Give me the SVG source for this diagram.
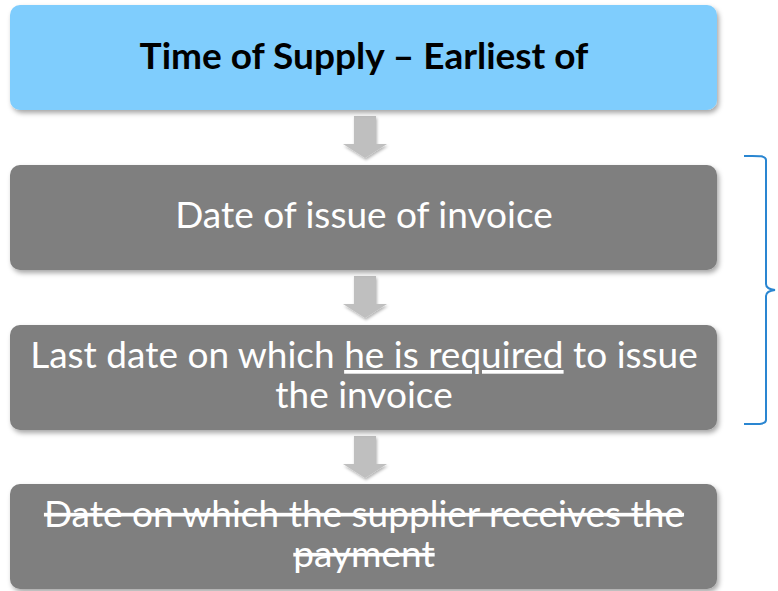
<svg xmlns="http://www.w3.org/2000/svg" width="778" height="591" viewBox="0 0 778 591">
  <defs>
    <filter id="shadow" x="-5%" y="-10%" width="110%" height="130%">
      <feDropShadow dx="2" dy="3" stdDeviation="2.5" flood-color="#000" flood-opacity="0.35"/>
    </filter>
    <filter id="ashadow" x="-20%" y="-20%" width="140%" height="140%">
      <feDropShadow dx="1" dy="2" stdDeviation="1.5" flood-color="#000" flood-opacity="0.3"/>
    </filter>
  </defs>
  <style>
    .box { fill: #7f7f7f; filter: url(#shadow); }
    .head { fill: #7fcdfd; filter: url(#shadow); }
    .t { font-family: Lato, "Liberation Sans", sans-serif; font-size: 37px; fill: #ffffff; text-anchor: middle; }
    .tb { font-family: Lato, "Liberation Sans", sans-serif; font-size: 37px; font-weight: bold; fill: #000000; text-anchor: middle; }
    .arrow { fill: #bfbfbf; filter: url(#ashadow); }
    .brace { fill: none; stroke: #2a86d1; stroke-width: 2; }
  </style>

  <rect width="778" height="591" fill="#ffffff"/>

  <g id="connectors">
    <path class="arrow" d="M354 116 H376 V144 H387 L365 158 L343 144 H354 Z"/>
    <path class="arrow" d="M354 276 H376 V304 H387 L365 318 L343 304 H354 Z"/>
    <path class="arrow" d="M354 436 H376 V464 H387 L365 478 L343 464 H354 Z"/>
  </g>

  <g id="node-time-of-supply">
    <rect class="head" x="10" y="5" width="707" height="105" rx="10"/>
    <text class="tb" x="364" y="69">Time of Supply – Earliest of</text>
  </g>

  <g id="node-issue-invoice">
    <rect class="box" x="10" y="165" width="707" height="105" rx="10"/>
    <text class="t" x="364" y="228">Date of issue of invoice</text>
  </g>

  <g id="node-last-date">
    <rect class="box" x="10" y="325" width="707" height="105" rx="10"/>
    <text class="t" x="364" y="368">Last date on which <tspan text-decoration="underline">he is required</tspan> to issue</text>
    <text class="t" x="364" y="408">the invoice</text>
  </g>

  <g id="node-payment">
    <rect class="box" x="10" y="484" width="707" height="105" rx="10"/>
    <text class="t" x="364" y="527" text-decoration="line-through">Date on which the supplier receives the</text>
    <text class="t" x="364" y="567" text-decoration="line-through">payment</text>
  </g>

  <g id="brace">
    <path class="brace" d="M744 156 C756 156 766 155 766 160 V284 Q766 289 775 290 Q766 291 766 296 V420 C766 425 756 424 744 424"/>
  </g>
</svg>
